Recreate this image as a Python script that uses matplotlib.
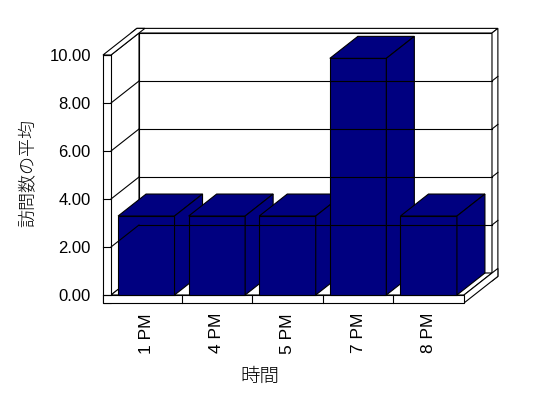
import numpy as np
import matplotlib
matplotlib.use("Agg")
import matplotlib.pyplot as plt
from matplotlib.patches import Polygon

plt.rcParams['font.family'] = ['Liberation Sans', 'Noto Sans CJK JP', 'DejaVu Sans']

# data
categories = ['1 PM', '4 PM', '5 PM', '7 PM', '8 PM']
values = [3.29, 3.29, 3.29, 9.86, 3.29]
y_ticks = [0, 2, 4, 6, 8, 10]
x_title = '時間'
y_title = '訪問数の平均'

# oblique depth offsets (data units per full depth)
DX = 28 / 70.6
DY = 22 / 24.0
TX = 8 / 70.6     # wall thickness in x
TY = 8 / 24.0     # floor thickness in y
TZ = 0.21         # back wall thickness in depth
BAR_W = 0.8
NAVY = '#000080'
LW = 0.8

fig = plt.figure(figsize=(5.48, 3.98), dpi=100)
ax = fig.add_axes([111 / 548, 103 / 398, 353 / 548, 240 / 398])
n = len(categories)
x0, x1 = -0.5, n - 0.5
ymax = y_ticks[-1]
ax.set_xlim(x0, x1)
ax.set_ylim(0, ymax)
for s in ax.spines.values():
    s.set_visible(False)


def P(x, y, z):
    return (x + z * DX, y + z * DY)


def face(pts, color='white'):
    ax.add_patch(Polygon([P(*p) for p in pts], closed=True, facecolor=color,
                         edgecolor='black', lw=LW, clip_on=False, joinstyle='miter'))


def line(a, b):
    pa, pb = P(*a), P(*b)
    ax.plot([pa[0], pb[0]], [pa[1], pb[1]], color='black', lw=LW, clip_on=False)


xl = x0 - TX
zb = 1 + TZ
# back wall front face
face([(x0, 0, 1), (x1, 0, 1), (x1, ymax, 1), (x0, ymax, 1)])
# left wall inner face
face([(x0, 0, 0), (x0, 0, 1), (x0, ymax, 1), (x0, ymax, 0)])
# floor top
face([(x0, 0, 0), (x1, 0, 0), (x1, 0, 1), (x0, 0, 1)])
# back wall top and right side
face([(xl, ymax, 1), (x1, ymax, 1), (x1, ymax, zb), (xl, ymax, zb)])
face([(x1, -TY, 1), (x1, -TY, zb), (x1, ymax, zb), (x1, ymax, 1)])
# floor right side
face([(x1, -TY, 0), (x1, -TY, zb), (x1, 0, zb), (x1, 0, 0)])
# left wall front and top
face([(xl, -TY, 0), (x0, -TY, 0), (x0, ymax, 0), (xl, ymax, 0)])
face([(xl, ymax, 0), (x0, ymax, 0), (x0, ymax, zb), (xl, ymax, zb)])
# floor front
face([(xl, -TY, 0), (x1, -TY, 0), (x1, 0, 0), (xl, 0, 0)])

# gridlines
for yv in y_ticks[1:-1]:
    line((x0, yv, 1), (x1, yv, 1))
    line((x0, yv, 0), (x0, yv, 1))
    line((x1, yv, 1), (x1, yv, zb))
for yv in y_ticks:
    line((xl, yv, 0), (x0, yv, 0))
# category boundaries on floor front
for i in range(1, n):
    line((i - 0.5, -TY, 0), (i - 0.5, 0, 0))

# bars
for i, v in enumerate(values):
    a, b = i - BAR_W / 2, i + BAR_W / 2
    face([(a, 0, 0), (b, 0, 0), (b, v, 0), (a, v, 0)], NAVY)
    face([(a, v, 0), (b, v, 0), (b, v, 1), (a, v, 1)], NAVY)
    face([(b, 0, 0), (b, 0, 1), (b, v, 1), (b, v, 0)], NAVY)

ax.set_yticks(y_ticks)
ax.set_yticklabels([f'{t:.2f}' for t in y_ticks])
ax.set_xticks(range(n))
ax.set_xticklabels(categories, rotation=90)
ax.tick_params(axis='y', length=0, pad=14.5, labelsize=12)
ax.tick_params(axis='x', length=0, pad=13, labelsize=12.5)

jp = ['Noto Sans CJK JP', 'DejaVu Sans']
fig.text(260 / 548, 1 - 376 / 398, x_title, ha='center', va='center',
         fontsize=14, family=jp, fontweight='light')
fig.text(28 / 548, 1 - 173 / 398, y_title, ha='center', va='center',
         rotation=90, fontsize=13, family=jp, fontweight='light')

fig.savefig('out.png', dpi=100)
